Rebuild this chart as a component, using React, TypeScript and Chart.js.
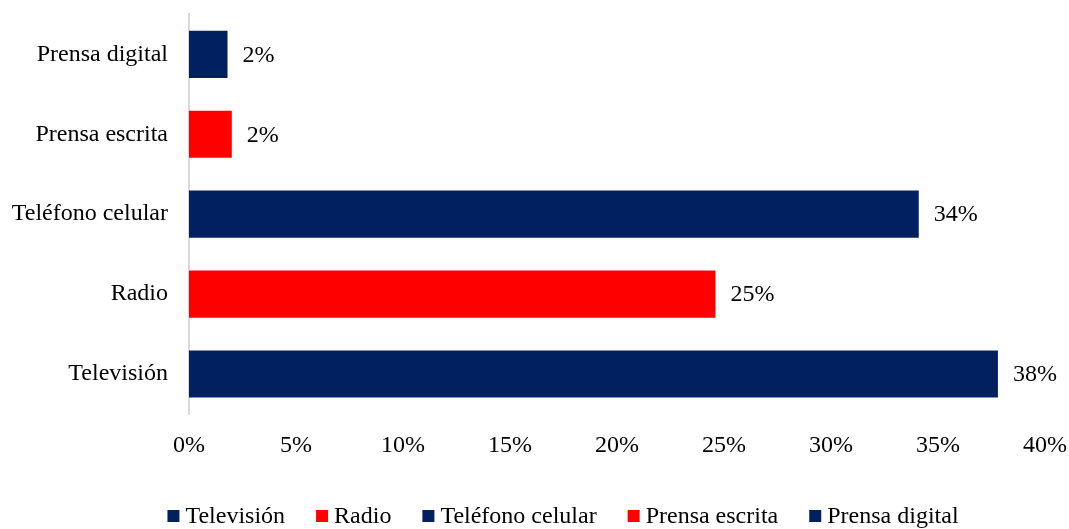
import React, { useEffect, useRef } from "react";
import { Chart, registerables } from "chart.js";

Chart.register(...registerables);

const categories = ["Televisión", "Radio", "Teléfono celular", "Prensa escrita", "Prensa digital"];
const values = [37.8, 24.6, 34.1, 2.0, 1.8];
const barColors = ["#002060", "#FF0000", "#002060", "#FF0000", "#002060"];
const xTicksMax = 40;
const xTickStep = 5;

const FONT = "'Liberation Serif', 'Times New Roman', serif";
const FONT_SIZE = 24;

// legend layout (not data)
const LEGEND_CENTER_X = 563;
const LEGEND_CENTER_Y = 516;
const LEGEND_BOX = 12;
const LEGEND_TEXT_GAP = 6;
const LEGEND_ITEM_GAP = 31;

const dataLabelPlugin = {
  id: "dataLabels",
  afterDatasetsDraw(chart: any) {
    const ctx = chart.ctx;
    const meta = chart.getDatasetMeta(0);
    ctx.save();
    ctx.font = `${FONT_SIZE}px ${FONT}`;
    ctx.fillStyle = "#000";
    ctx.textAlign = "left";
    ctx.textBaseline = "middle";
    meta.data.forEach((bar: any, i: number) => {
      const v = chart.data.datasets[0].data[i] as number;
      ctx.fillText(`${Math.round(v)}%`, bar.x + 15, bar.y + 1);
    });
    ctx.restore();
  },
};

const customLegendPlugin = {
  id: "customLegend",
  afterDraw(chart: any) {
    const ctx = chart.ctx;
    const labels: string[] = chart.data.labels;
    const colors: string[] = chart.data.datasets[0].backgroundColor;
    ctx.save();
    ctx.font = `${FONT_SIZE}px ${FONT}`;
    const widths = labels.map((l) => ctx.measureText(l).width);
    const total =
      widths.reduce((a, w) => a + LEGEND_BOX + LEGEND_TEXT_GAP + w, 0) +
      LEGEND_ITEM_GAP * (labels.length - 1);
    let x = LEGEND_CENTER_X - total / 2;
    ctx.textAlign = "left";
    ctx.textBaseline = "middle";
    labels.forEach((l, i) => {
      ctx.fillStyle = colors[i];
      ctx.fillRect(x, LEGEND_CENTER_Y - LEGEND_BOX / 2, LEGEND_BOX, LEGEND_BOX);
      ctx.fillStyle = "#000";
      ctx.fillText(l, x + LEGEND_BOX + LEGEND_TEXT_GAP, LEGEND_CENTER_Y + 1);
      x += LEGEND_BOX + LEGEND_TEXT_GAP + widths[i] + LEGEND_ITEM_GAP;
    });
    ctx.restore();
  },
};

export default function App() {
  const ref = useRef<HTMLCanvasElement>(null);
  useEffect(() => {
    document.body.style.margin = "0";
    const chart = new Chart(ref.current!, {
      type: "bar",
      data: {
        labels: categories,
        datasets: [
          {
            label: "Serie",
            data: values,
            backgroundColor: barColors,
            borderWidth: 0,
            barPercentage: 0.59,
            categoryPercentage: 1,
          },
        ],
      },
      options: {
        indexAxis: "y",
        animation: false,
        responsive: false,
        layout: { padding: { top: 14, left: 0, right: 24, bottom: 0 } },
        scales: {
          x: {
            min: 0,
            max: xTicksMax,
            grid: { display: false, drawTicks: true, tickLength: 17 },
            border: { display: false },
            ticks: {
              stepSize: xTickStep,
              padding: 0,
              color: "#000",
              font: { family: FONT, size: FONT_SIZE },
              callback: (v: any) => `${v}%`,
            },
            afterFit: (s: any) => {
              s.height = 115;
            },
          },
          y: {
            reverse: true,
            grid: { display: false, drawTicks: true, tickLength: 21 },
            border: { display: true, color: "#d9d9d9", width: 2 },
            ticks: {
              padding: 0,
              color: "#000",
              font: { family: FONT, size: FONT_SIZE },
            },
            afterFit: (s: any) => {
              s.width = 189;
            },
          },
        },
        plugins: {
          tooltip: { enabled: false },
          legend: { display: false },
        },
      },
      plugins: [dataLabelPlugin, customLegendPlugin],
    });
    return () => chart.destroy();
  }, []);
  return <canvas ref={ref} width={1069} height={529} style={{ display: "block" }} />;
}
